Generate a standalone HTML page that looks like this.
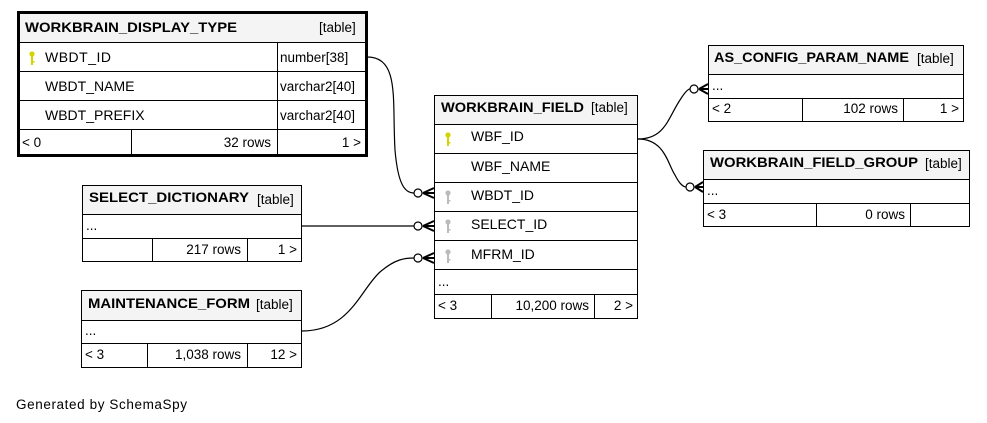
<!DOCTYPE html>
<html><head><meta charset="utf-8"><style>
html,body{margin:0;padding:0;background:#fff;}
svg{display:block;font-family:"Liberation Sans",Arial,sans-serif;}
.h{font-weight:bold;font-size:14px;}
.t{font-size:14px;}
.s{font-size:13.5px;}
</style></head><body>
<svg width="987" height="423" viewBox="0 0 987 423" xmlns="http://www.w3.org/2000/svg">
<defs>
<g id="key"><circle cx="0" cy="-4" r="2.6" fill="currentColor"/><rect x="-1" y="-3" width="2" height="10" fill="currentColor"/><rect x="0" y="3" width="2.5" height="1.5" fill="currentColor"/></g>
</defs>
<g fill="none" stroke="#000" stroke-width="1.2">
<path d="M367,57 C400,57 392,100 395,150 C398,185 405,193 414,193"/>
<path d="M302,226 L414,226"/>
<path d="M302,331 C350,331 360,290 380,272 C395,259 405,258 414,258"/>
<path d="M638,139 C665,139 668,118 680,100 C685,92 688,89 690,89"/>
<path d="M638,139 C665,139 668,165 675,175 C680,185 684,187 686,187"/>
<circle cx="418" cy="193" r="4" fill="#fff"/>
<circle cx="418" cy="226" r="4" fill="#fff"/>
<circle cx="418" cy="258" r="4" fill="#fff"/>
<circle cx="694" cy="89" r="4" fill="#fff"/>
<circle cx="690" cy="187" r="4" fill="#fff"/>
</g>
<g fill="none" stroke="#000" stroke-width="2">
<path d="M423,193 L434,188 M423,193 L434,193 M423,193 L434,198"/>
<path d="M423,226 L434,221 M423,226 L434,226 M423,226 L434,231"/>
<path d="M423,258 L434,253 M423,258 L434,258 M423,258 L434,263"/>
<path d="M699,89 L708,84 M699,89 L708,89 M699,89 L708,94"/>
<path d="M695,187 L703,182 M695,187 L703,187 M695,187 L703,192"/>
</g>

<g stroke="#000" stroke-width="1">
<rect x="18.5" y="12.5" width="348" height="143" fill="#fff" stroke-width="3"/>
<rect x="20" y="14" width="345" height="28" fill="#f4f4f4" stroke="none"/>
<path d="M18,42.5H367M18,71.5H367M18,100.5H367M18,129.5H367M277.5,42V155M131.5,129V155" fill="none"/>
</g>
<text class="h" x="25" y="32" textLength="212" lengthAdjust="spacingAndGlyphs">WORKBRAIN_DISPLAY_TYPE</text>
<text class="s" x="319" y="32">[table]</text>
<use href="#key" x="32" y="58" style="color:#d4d400"/>
<text class="t" x="45" y="62" textLength="66">WBDT_ID</text><text class="s" x="280" y="62">number[38]</text>
<text class="t" x="45" y="91">WBDT_NAME</text><text class="s" x="280" y="91">varchar2[40]</text>
<text class="t" x="45" y="120">WBDT_PREFIX</text><text class="s" x="280" y="120">varchar2[40]</text>
<text class="s" x="22" y="147">&lt; 0</text>
<text class="s" x="271" y="147" text-anchor="end">32 rows</text>
<text class="s" x="361" y="147" text-anchor="end">1 &gt;</text>

<g stroke="#000" stroke-width="1">
<rect x="82.5" y="185.5" width="219" height="76" fill="#fff"/>
<rect x="83" y="186" width="218" height="28" fill="#f4f4f4" stroke="none"/>
<path d="M82,214.5H302M82,238.5H302M152.5,238V262M247.5,238V262" fill="none"/>
</g>
<text class="h" x="89" y="202" textLength="160" lengthAdjust="spacingAndGlyphs">SELECT_DICTIONARY</text><text class="s" x="257" y="204">[table]</text>
<text class="s" x="86" y="230">...</text>
<text class="s" x="241" y="254" text-anchor="end">217 rows</text>
<text class="s" x="297" y="254" text-anchor="end">1 &gt;</text>

<g stroke="#000" stroke-width="1">
<rect x="81.5" y="290.5" width="220" height="77" fill="#fff"/>
<rect x="82" y="291" width="219" height="29" fill="#f4f4f4" stroke="none"/>
<path d="M81,320.5H302M81,343.5H302M147.5,343V368M247.5,343V368" fill="none"/>
</g>
<text class="h" x="88" y="308" textLength="162" lengthAdjust="spacingAndGlyphs">MAINTENANCE_FORM</text><text class="s" x="256" y="309">[table]</text>
<text class="s" x="85" y="335">...</text>
<text class="s" x="85" y="359">&lt; 3</text>
<text class="s" x="241" y="359" text-anchor="end">1,038 rows</text>
<text class="s" x="297" y="359" text-anchor="end">12 &gt;</text>

<g stroke="#000" stroke-width="1">
<rect x="434.5" y="95.5" width="203" height="223" fill="#fff"/>
<rect x="435" y="96" width="202" height="28" fill="#f4f4f4" stroke="none"/>
<path d="M434,124.5H638M434,153.5H638M434,182.5H638M434,211.5H638M434,240.5H638M434,269.5H638M434,294.5H638M491.5,294V318M594.5,294V318" fill="none"/>
</g>
<text class="h" x="441" y="112" textLength="143" lengthAdjust="spacingAndGlyphs">WORKBRAIN_FIELD</text><text class="s" x="591" y="112">[table]</text>
<use href="#key" x="448" y="139" style="color:#d4d400"/>
<text class="t" x="471" y="141">WBF_ID</text>
<text class="t" x="471" y="171">WBF_NAME</text>
<use href="#key" x="448" y="197" style="color:#bbb"/>
<text class="t" x="471" y="200">WBDT_ID</text>
<use href="#key" x="448" y="226" style="color:#bbb"/>
<text class="t" x="471" y="229">SELECT_ID</text>
<use href="#key" x="448" y="256" style="color:#bbb"/>
<text class="t" x="471" y="259">MFRM_ID</text>
<text class="s" x="438" y="286">...</text>
<text class="s" x="438" y="310">&lt; 3</text>
<text class="s" x="589" y="310" text-anchor="end">10,200 rows</text>
<text class="s" x="633" y="310" text-anchor="end">2 &gt;</text>

<g stroke="#000" stroke-width="1">
<rect x="708.5" y="45.5" width="255" height="76" fill="#fff"/>
<rect x="709" y="46" width="254" height="28" fill="#f4f4f4" stroke="none"/>
<path d="M708,74.5H964M708,98.5H964M802.5,98V122M903.5,98V122" fill="none"/>
</g>
<text class="h" x="714" y="62" textLength="195" lengthAdjust="spacingAndGlyphs">AS_CONFIG_PARAM_NAME</text><text class="s" x="917" y="63">[table]</text>
<text class="s" x="712" y="90">...</text>
<text class="s" x="712" y="113">&lt; 2</text>
<text class="s" x="898" y="113" text-anchor="end">102 rows</text>
<text class="s" x="959" y="113" text-anchor="end">1 &gt;</text>

<g stroke="#000" stroke-width="1">
<rect x="703.5" y="150.5" width="266" height="76" fill="#fff"/>
<rect x="704" y="151" width="265" height="28" fill="#f4f4f4" stroke="none"/>
<path d="M703,179.5H970M703,203.5H970M816.5,203V227M910.5,203V227" fill="none"/>
</g>
<text class="h" x="710" y="167" textLength="208" lengthAdjust="spacingAndGlyphs">WORKBRAIN_FIELD_GROUP</text><text class="s" x="925" y="168">[table]</text>
<text class="s" x="707" y="195">...</text>
<text class="s" x="707" y="219">&lt; 3</text>
<text class="s" x="905" y="219" text-anchor="end">0 rows</text>

<text class="s" x="16" y="409" textLength="171">Generated by SchemaSpy</text>
</svg>
</body></html>
